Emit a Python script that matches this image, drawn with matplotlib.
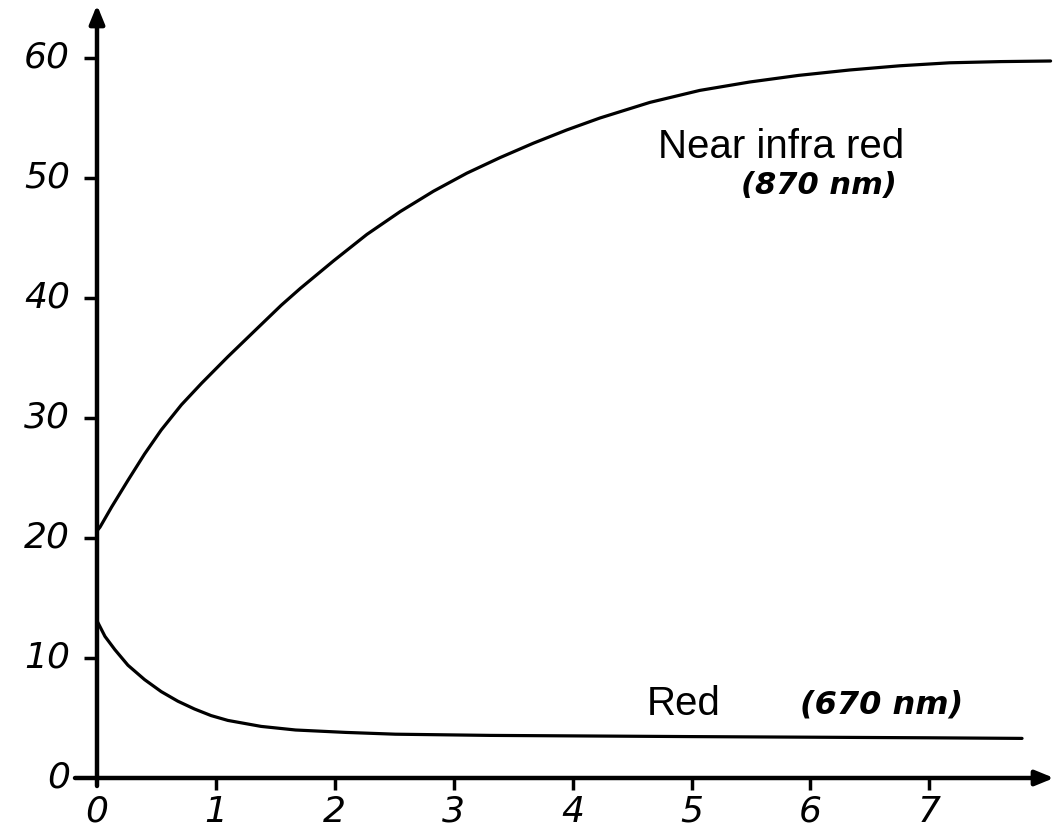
import matplotlib
matplotlib.use("Agg")
import matplotlib.pyplot as plt

# ---- data ----
x_ticks = [0, 1, 2, 3, 4, 5, 6, 7]
y_ticks = [0, 10, 20, 30, 40, 50, 60]
x_tick_labels = ["0", "1", "2", "3", "4", "5", "6", "7"]
y_tick_labels = ["0", "10", "20", "30", "40", "50", "60"]

nir_x = [0, 0.025, 0.124, 0.26, 0.40, 0.54, 0.71, 0.88, 1.10, 1.33, 1.55,
         1.71, 1.99, 2.27, 2.55, 2.83, 3.11, 3.39, 3.67, 3.95, 4.23, 4.65,
         5.07, 5.49, 5.90, 6.33, 6.75, 7.17, 7.60, 8.02]
nir_y = [20.6, 20.9, 22.6, 24.8, 27.0, 29.0, 31.1, 32.9, 35.1, 37.3, 39.4,
         40.8, 43.1, 45.3, 47.2, 48.9, 50.4, 51.7, 52.9, 54.0, 55.0, 56.3,
         57.3, 58.0, 58.55, 59.0, 59.35, 59.6, 59.7, 59.75]

red_x = [0, 0.067, 0.15, 0.26, 0.40, 0.54, 0.68, 0.82, 0.96, 1.10, 1.38,
         1.67, 2.09, 2.51, 3.31, 4.15, 5.0, 6.0, 7.0, 7.78]
red_y = [13.1, 11.8, 10.7, 9.4, 8.2, 7.2, 6.4, 5.75, 5.2, 4.8, 4.3,
         4.0, 3.8, 3.65, 3.55, 3.5, 3.45, 3.4, 3.35, 3.3]

nir_label = "Near infra red"
nir_wave = "(870 nm)"
red_label = "Red"
red_wave = "(670 nm)"

# ---- figure ----
W, H, DPI = 1055, 839, 100
fig = plt.figure(figsize=(W / DPI, H / DPI), dpi=DPI)
ax = fig.add_axes([0, 0, 1, 1])
ax.set_axis_off()

# pixel mapping: origin at (97, 778), 118.9 px per x unit, 12 px per y unit
x0, y0, sx, sy = 97.0, 778.0, 118.9, 12.0
ax.set_xlim(-x0 / sx, (W - x0) / sx)
ax.set_ylim((y0 - H) / sy, y0 / sy)

lw_axis = 3.2
k = "black"

# axes lines with arrows
ax.annotate("", xy=((1054 - x0) / sx, 0), xytext=(-22 / sx, 0),
            arrowprops=dict(arrowstyle="-|>,head_length=1.1,head_width=0.45",
                            lw=lw_axis, color=k, shrinkA=0, shrinkB=0))
ax.annotate("", xy=(0, (y0 - 5) / sy), xytext=(0, -8 / sy),
            arrowprops=dict(arrowstyle="-|>,head_length=1.1,head_width=0.45",
                            lw=lw_axis, color=k, shrinkA=0, shrinkB=0))

tick_font = dict(fontsize=26, style="italic", family="DejaVu Sans", color=k)

# ticks
for yv, lab in zip(y_ticks, y_tick_labels):
    if yv > 0:
        ax.plot([-13 / sx, 0], [yv, yv], color=k, lw=2.5, solid_capstyle="butt")
    ax.text(-27 / sx, yv, lab, ha="right", va="center", **tick_font)
for xv, lab in zip(x_ticks, x_tick_labels):
    if xv > 0:
        ax.plot([xv, xv], [0, -12 / sy], color=k, lw=2.5, solid_capstyle="butt")
    ax.text(xv, -34 / sy, lab, ha="center", va="center", **tick_font)

# curves
ax.plot(nir_x, nir_y, color=k, lw=2.3, solid_joinstyle="round",
        solid_capstyle="round")
ax.plot(red_x, red_y, color=k, lw=2.3, solid_joinstyle="round",
        solid_capstyle="round")

# annotations
ax.text((658 - x0) / sx, (y0 - 158) / sy, nir_label, ha="left", va="baseline",
        fontsize=29, family="Liberation Sans", color=k)
ax.text((819 - x0) / sx, (y0 - 186) / sy, nir_wave, ha="center", va="center",
        fontsize=22, style="italic", weight="bold", family="DejaVu Sans", color=k)
ax.text((647 - x0) / sx, (y0 - 715) / sy, red_label, ha="left", va="baseline",
        fontsize=29, family="Liberation Sans", color=k)
ax.text((882 - x0) / sx, (y0 - 705) / sy, red_wave, ha="center", va="center",
        fontsize=23, style="italic", weight="bold", family="DejaVu Sans", color=k)

fig.savefig("out.png", dpi=DPI, facecolor="white")
